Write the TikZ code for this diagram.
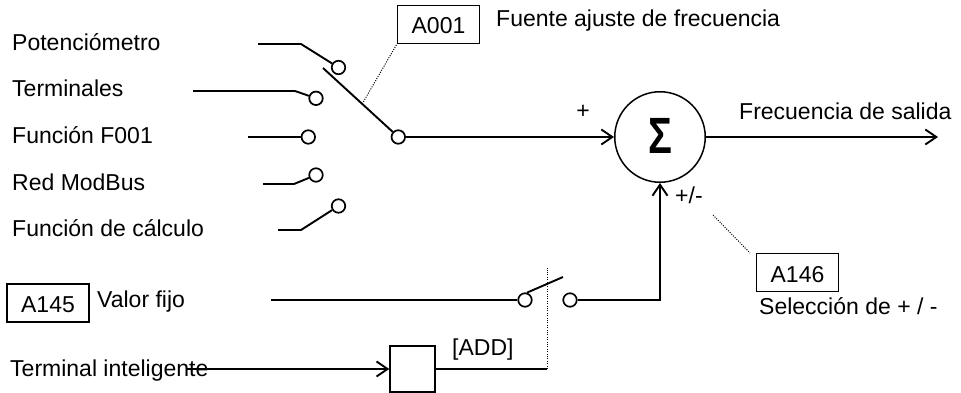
\documentclass[tikz,border=0pt]{standalone}
\usepackage{fontspec}
\setmainfont{Liberation Sans}
\usetikzlibrary{arrows.meta,calc}
\begin{document}
\begin{tikzpicture}[x=1pt,y=-1pt,
  font=\fontsize{23}{27}\selectfont,
  wire/.style={line width=1.9pt},
  arr/.style={wire,-{Straight Barb[length=11pt,width=15pt,line width=1.9pt]}},
  term/.style={circle,draw,line width=1.7pt,minimum size=13.5pt,inner sep=0pt},
  lbl/.style={anchor=base west,inner sep=0pt},
  pbox/.style={draw,line width=1.5pt,minimum width=82pt,minimum height=38pt,inner sep=0pt,text height=19pt,text depth=0pt},
  leader/.style={line width=1pt,dash pattern=on 1pt off 1.4pt}]
\useasboundingbox (0,0) rectangle (961,393);

% input labels
\node[lbl] (tpot) at (12,51) {Potenciómetro};
\node[lbl] (tter) at (12,97) {Terminales};
\node[lbl] (tf01) at (12,144) {Función F001};
\node[lbl] (tmod) at (12,190.5) {Red ModBus};
\node[lbl] (tcal) at (12,236.5) {Función de cálculo};

% selector terminals
\node[term] (p1) at (338.5,67.5) {};
\node[term] (p2) at (316,98.3) {};
\node[term] (p3) at (308.3,137) {};
\node[term] (p4) at (316,175) {};
\node[term] (p5) at (338.5,206) {};
\node[term] (out) at (398.3,137) {};

\coordinate (a1) at (258,44);  \coordinate (b1) at (301,44);
\coordinate (a2) at (193,91);  \coordinate (b2) at (295,91);
\coordinate (a3) at (248,137);
\coordinate (a4) at (263,184); \coordinate (b4) at (294,184);
\coordinate (a5) at (278,230); \coordinate (b5) at (301,230);
\draw[wire] (a1) -- (b1) -- (p1);
\draw[wire] (a2) -- (b2) -- (p2);
\draw[wire] (a3) -- (p3);
\draw[wire] (a4) -- (b4) -- (p4);
\draw[wire] (a5) -- (b5) -- (p5);

% selector arm
\coordinate (armA) at (323,68);
\draw[wire] (armA) -- (out);
\coordinate (armM) at ($(armA)!0.52!(out)$);

% A001
\node[pbox] (A001) at (438.5,24.5) {A001};
\node[lbl] (tfuente) at (496,27) {Fuente ajuste de frecuencia};
\draw[leader] (armM) -- (A001.south west);

% summing point
\node[circle,draw,line width=1.5pt,minimum size=90.5pt,inner sep=0pt] (sum) at (660,137)
  {\raisebox{3pt}{\fontsize{51}{54}\selectfont\bfseries\scalebox{0.78}[1]{Σ}}};
\draw[arr] (out) -- (sum);
\node (tplus) at (583,112) {+};
\coordinate (fout) at (938,137);
\draw[arr] (sum) -- (fout);
\node[lbl] (tsal) at (739,120) {Frecuencia de salida};
\node[lbl] (tpm) at (675,203) {+/-};

% A146
\node[pbox] (A146) at (797.5,272.5) {A146};
\node[lbl] (tsel) at (759,314) {Selección de + / -};
\coordinate (l146a) at (713,215);
\coordinate (l146b) at (750,253);
\draw[leader] (l146a) -- (l146b);

% fixed value branch
\node[pbox] (A145) at (48,303) {A145};
\node[lbl] (tval) at (97,307) {Valor fijo};
\node[term] (v1) at (525,300) {};
\node[term] (v2) at (570,300) {};
\coordinate (vstart) at (271,300);
\draw[wire] (vstart) -- (v1);
\coordinate (varm) at (563,277);
\draw[wire] (v1.75) -- (varm);
\coordinate (corner) at (660,300);
\draw[arr] (v2) -- (corner) -- (sum);

% intelligent terminal
\node[lbl] (tint) at (10,376) {Terminal inteligente};
\node[draw,line width=1.5pt,minimum width=45pt,minimum height=46pt,inner sep=0pt] (add) at (412.5,369) {};
\coordinate (tistart) at (187,369);
\draw[arr] (tistart) -- (add.west);
\coordinate (addend) at (547,369);
\draw[wire] (add.east) -- (addend);
\node[lbl] (tadd) at (452,355) {[ADD]};
\coordinate (dtop) at (547,268);
\draw[leader] (addend) -- (dtop);
\end{tikzpicture}
\end{document}
